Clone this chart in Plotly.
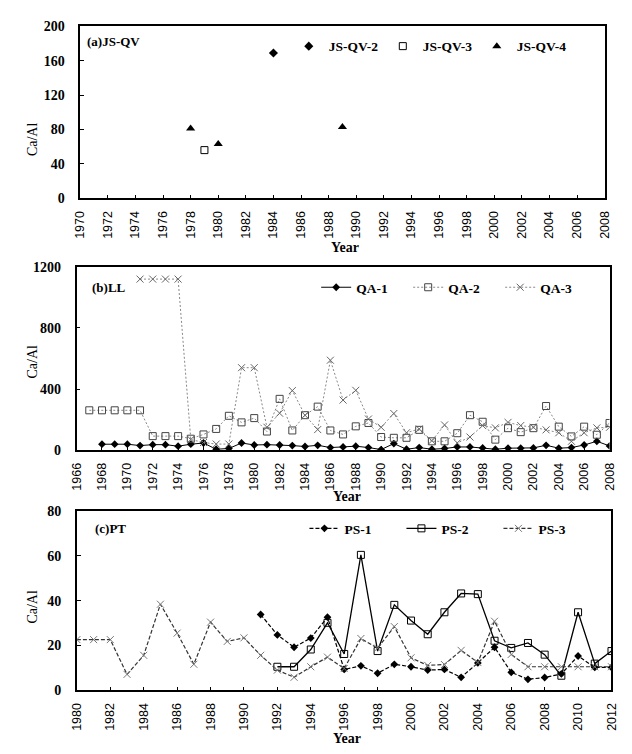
import plotly.graph_objects as go

# ---- data ----
# (a) JS-QV
jsqv2_year = [1984]
jsqv2_val = [169]
jsqv3_year = [1979]
jsqv3_val = [56]
jsqv4_year = [1978, 1980, 1989]
jsqv4_val = [81, 63, 83]

# (b) LL
qa1_year = list(range(1968, 2009))
qa1_val = [39, 39, 39, 30, 36, 36, 26, 39, 47, 6, 11, 47, 34, 36, 34, 30, 24, 32, 17,
           21, 26, 17, 4, 43, 6, 17, 6, 11, 21, 21, 15, 6, 13, 13, 15, 32, 13, 17, 34, 58, 28]
qa2_year = list(range(1967, 2009))
qa2_val = [261, 261, 261, 261, 261, 92, 92, 92, 75, 103, 139, 225, 182, 210, 122, 336,
           129, 229, 285, 129, 103, 156, 178, 86, 81, 81, 133, 58, 58, 111, 229, 186,
           69, 144, 118, 144, 289, 154, 90, 154, 101, 178]
qa3_year = list(range(1971, 2009))
qa3_val = [1120, 1120, 1120, 1120, 70, 50, 40, 40, 540, 540, 150, 242, 390, 229, 135,
           589, 328, 392, 204, 150, 240, 114, 139, 62, 165, 47, 86, 161, 146, 182, 161,
           150, 133, 114, 58, 114, 146, 150]

# (c) PT
ps1_year = list(range(1991, 2013))
ps1_val = [33.8, 24.7, 19.2, 23.3, 32.6, 9.3, 10.9, 7.6, 11.6, 10.5, 9.0, 9.3, 5.8,
           12.2, 19.2, 8.0, 4.9, 5.7, 7.3, 15.3, 10.2, 10.2]
ps2_year = list(range(1992, 2013))
ps2_val = [10.5, 10.5, 18.2, 30.1, 16.2, 60.4, 17.5, 38.1, 31.1, 25.0, 34.8, 43.2,
           42.9, 22.1, 18.9, 21.1, 15.9, 6.5, 34.8, 11.9, 17.5]
ps3_year = list(range(1980, 2013))
ps3_val = [22.6, 22.6, 22.6, 7.1, 15.6, 38.4, 25.5, 11.6, 30.4, 21.8, 23.4, 15.6, 9.0,
           5.8, 10.5, 14.8, 9.7, 23.1, 18.8, 28.4, 14.5, 11.1, 11.5, 17.8, 12.4, 30.8,
           16.0, 10.5, 10.5, 10.5, 10.5, 10.5, 10.5]

W, H = 632, 754
SERIF = "Liberation Serif"
SANS = "Liberation Sans"


def px_x(v):
    return v / W


def px_y(v):
    return 1 - v / H


fig = go.Figure()

# panel a
fig.add_trace(go.Scatter(x=jsqv2_year, y=jsqv2_val, name="JS-QV-2", mode="markers",
                         marker=dict(symbol="diamond", size=7, color="black"),
                         xaxis="x", yaxis="y", legend="legend"))
fig.add_trace(go.Scatter(x=jsqv3_year, y=jsqv3_val, name="JS-QV-3", mode="markers",
                         marker=dict(symbol="square-open", size=7, color="black",
                                     line=dict(width=1)),
                         xaxis="x", yaxis="y", legend="legend"))
fig.add_trace(go.Scatter(x=jsqv4_year, y=jsqv4_val, name="JS-QV-4", mode="markers",
                         marker=dict(symbol="triangle-up", size=8, color="black"),
                         xaxis="x", yaxis="y", legend="legend"))

# panel b
fig.add_trace(go.Scatter(x=qa1_year, y=qa1_val, name="QA-1", mode="lines+markers",
                         line=dict(color="black", width=1),
                         marker=dict(symbol="diamond", size=6, color="black"),
                         xaxis="x2", yaxis="y2", legend="legend2"))
fig.add_trace(go.Scatter(x=qa2_year, y=qa2_val, name="QA-2", mode="lines+markers",
                         line=dict(color="#888888", width=1, dash="2px,2px"),
                         marker=dict(symbol="square-open", size=7, color="#444444",
                                     line=dict(width=1)),
                         xaxis="x2", yaxis="y2", legend="legend2"))
fig.add_trace(go.Scatter(x=qa3_year, y=qa3_val, name="QA-3", mode="lines+markers",
                         line=dict(color="#888888", width=1, dash="2px,2px"),
                         marker=dict(symbol="x-thin-open", size=7, color="#666666",
                                     line=dict(width=1, color="#666666")),
                         xaxis="x2", yaxis="y2", legend="legend2"))

# panel c
fig.add_trace(go.Scatter(x=ps1_year, y=ps1_val, name="PS-1", mode="lines+markers",
                         line=dict(color="black", width=1.2, dash="4px,2px"),
                         marker=dict(symbol="diamond", size=6, color="black"),
                         xaxis="x3", yaxis="y3", legend="legend3"))
fig.add_trace(go.Scatter(x=ps2_year, y=ps2_val, name="PS-2", mode="lines+markers",
                         line=dict(color="black", width=1.3),
                         marker=dict(symbol="square-open", size=7, color="black",
                                     line=dict(width=1)),
                         xaxis="x3", yaxis="y3", legend="legend3"))
fig.add_trace(go.Scatter(x=ps3_year, y=ps3_val, name="PS-3", mode="lines+markers",
                         line=dict(color="#333333", width=1.2, dash="4px,2px"),
                         marker=dict(symbol="x-thin-open", size=7, color="#777777",
                                     line=dict(width=1, color="#777777")),
                         xaxis="x3", yaxis="y3", legend="legend3"))

xcommon = dict(showgrid=False, zeroline=False, showline=True, linecolor="black",
               linewidth=1.5, mirror=True, ticks="inside", ticklen=4, tickcolor="black",
               dtick=2, tickangle=-90, ticklabelstandoff=6,
               tickfont=dict(family=SANS, size=12.5, color="black"))
ycommon = dict(showgrid=False, zeroline=False, showline=True, linecolor="black",
               linewidth=1.5, mirror=True, ticks="inside", ticklen=4, tickcolor="black",
               ticklabelstandoff=11,
               tickfont=dict(family=SERIF, size=14, color="black", weight="bold"))

panels = {
    "a": dict(x=(66.7, 603), y=(11.5, 187), xr=[1970, 2008], yr=[0, 200], dy=40),
    "b": dict(x=(63, 608), y=(257, 444), xr=[1966, 2008], yr=[0, 1200], dy=400),
    "c": dict(x=(63.3, 610), y=(506, 689), xr=[1980, 2012], yr=[0, 80], dy=20),
}

layout = dict(width=W, height=H, margin=dict(l=0, r=0, t=0, b=0),
              paper_bgcolor="white", plot_bgcolor="white",
              font=dict(family=SERIF, color="black"))

for i, key in enumerate(["a", "b", "c"]):
    p = panels[key]
    sfx = "" if i == 0 else str(i + 1)
    layout["xaxis" + sfx] = dict(xcommon, domain=[px_x(p["x"][0]), px_x(p["x"][1])],
                                 range=p["xr"], anchor="y" + sfx)
    layout["yaxis" + sfx] = dict(ycommon, domain=[px_y(p["y"][1]), px_y(p["y"][0])],
                                 range=p["yr"], dtick=p["dy"], anchor="x" + sfx)

legfont = dict(family=SERIF, size=13.5, color="black", weight="bold")
layout["legend"] = dict(orientation="h", x=px_x(280), y=px_y(32), xanchor="left",
                        yanchor="middle", font=legfont, bgcolor="rgba(0,0,0,0)",
                        entrywidth=49, entrywidthmode="pixels", itemwidth=30)
layout["legend2"] = dict(orientation="h", x=px_x(308), y=px_y(278), xanchor="left",
                         yanchor="middle", font=legfont, bgcolor="rgba(0,0,0,0)",
                         entrywidth=47, entrywidthmode="pixels", itemwidth=30)
layout["legend3"] = dict(orientation="h", x=px_x(296), y=px_y(524), xanchor="left",
                         yanchor="middle", font=legfont, bgcolor="rgba(0,0,0,0)",
                         entrywidth=52, entrywidthmode="pixels", itemwidth=30)

ann = []
# panel labels
for txt, x, y in [("(a)JS-QV", 72, 27), ("(b)LL", 77, 278), ("(c)PT", 80, 524)]:
    ann.append(dict(text=txt, x=px_x(x), y=px_y(y), xref="paper", yref="paper",
                    xanchor="left", yanchor="middle", showarrow=False,
                    font=dict(family=SERIF, size=13, color="black", weight="bold")))
# axis titles
for x, y in [(337, 237), (340, 491), (340, 738)]:
    ann.append(dict(text="Year", x=px_x(x), y=px_y(y), xref="paper", yref="paper",
                    xanchor="center", yanchor="middle", showarrow=False,
                    font=dict(family=SERIF, size=14, color="black", weight="bold")))
for y in [127, 354, 604]:
    ann.append(dict(text="Ca/Al", x=px_x(18), y=px_y(y), xref="paper", yref="paper",
                    xanchor="center", yanchor="middle", showarrow=False, textangle=-90,
                    font=dict(family=SERIF, size=14, color="black")))
layout["annotations"] = ann

fig.update_layout(**layout)
fig.write_html("out.html")
